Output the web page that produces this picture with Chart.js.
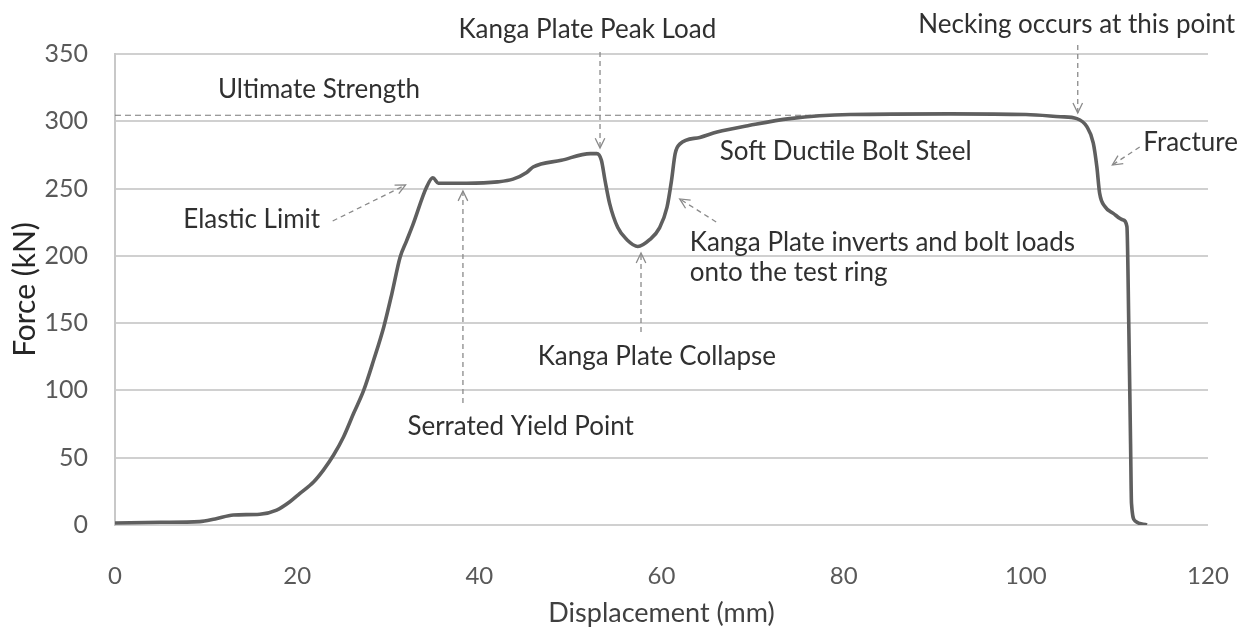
<!DOCTYPE html>
<html>
<head>
<meta charset="utf-8">
<title>Bolt pull test - Force vs Displacement</title>
<script src="https://cdn.jsdelivr.net/npm/chart.js@4.4.0/dist/chart.umd.min.js"></script>
<style>
    html, body { margin: 0; padding: 0; background: #fff; }
    #wrap { width: 1250px; height: 628px; position: relative; }
</style>
</head>
<body>
<div id="wrap"><canvas id="force-chart"></canvas></div>
<script>
// values
const displacement = [0, 5, 9.3, 11, 13, 15.9, 17.75, 19.2, 20.3, 21.8, 22.9, 24, 25.1, 26.2, 27.3,
    28.4, 29.5, 30.4, 31.3, 32.0, 32.7, 34.2, 34.9, 35.5, 38.6, 42, 43.7, 45.2, 45.9, 49, 52.2,
    52.9, 53.4, 53.8, 54.3, 55.2, 56.2, 57.4, 58.7, 59.8, 60.6, 61.1, 61.5, 62, 64.2, 66.1, 69.7,
    74.1, 80.7, 91.7, 100, 103.8, 105.6, 106.7, 107.4, 107.8, 108.1, 108.7, 109.6, 110.7, 111.1,
    111.3, 111.5, 111.6, 112, 113.3]
const force = [1.5, 2, 2.5, 4.5, 7.4, 8, 11.1, 17.3, 23.5, 32, 41, 52, 65.6, 83, 100,
    122.6, 147, 172, 199, 211, 223, 251, 258, 254, 254, 255, 257, 262, 266, 271, 276,
    276, 271, 256, 239, 221, 212, 207, 212, 221, 236, 256, 276, 283, 288, 292, 297,
    302, 305, 305.5, 305, 303.4, 302, 296, 284, 266, 246.6, 236.5, 231.6, 226.6, 221.7,
    150, 60, 16, 3, 0]

const ultimateX = [0, 80]
const ultimateY = [304.5, 304.5]

const xTicks = [0, 20, 40, 60, 80, 100, 120]
const yTicks = [0, 50, 100, 150, 200, 250, 300, 350]

// callout texts, placed in data units
const notes = [
    { text: "Kanga Plate Peak Load", x: 37.7, y: 367.8 },
    { text: "Necking occurs at this point", x: 88.2, y: 371.6 },
    { text: "Ultimate Strength", x: 11.3, y: 323.2 },
    { text: "Soft Ductile Bolt Steel", x: 66.4, y: 277.2 },
    { text: "Fracture", x: 112.9, y: 283.9 },
    { text: "Elastic Limit", x: 7.5, y: 226.6 },
    { text: "Kanga Plate inverts and bolt loads", x: 63.1, y: 209.6 },
    { text: "onto the test ring", x: 63.1, y: 187.3 },
    { text: "Kanga Plate Collapse", x: 46.4, y: 124.8 },
    { text: "Serrated Yield Point", x: 32.1, y: 72.8 }
]

// dashed arrows: [fromX, fromY, toX, toY]
const arrows = [
    [53.25, 351.5, 53.25, 280.1],
    [105.7, 356.7, 105.7, 306.2],
    [23.9, 225.9, 31.9, 252.7],
    [38.2, 90.7, 38.2, 248.2],
    [57.75, 143.4, 57.75, 202.1],
    [66.0, 225.2, 62.0, 242.3],
    [112.5, 280.9, 109.5, 267.5]
]

const FONT = 'Lato, "Open Sans", sans-serif'

function pairs(xs, ys) {
    let out = []
    for (let i = 0; i < xs.length; i++) {
        out.push({ x: xs[i], y: ys[i] })
    }
    return out
}

const notesPlugin = {
    id: "notes",
    afterDatasetsDraw(chart) {
        const ctx = chart.ctx
        const sx = chart.scales.x
        const sy = chart.scales.y
        ctx.save()

        ctx.font = "26px " + FONT
        ctx.fillStyle = "#303030"
        ctx.textAlign = "left"
        ctx.textBaseline = "middle"
        for (const n of notes) {
            ctx.fillText(n.text, sx.getPixelForValue(n.x), sy.getPixelForValue(n.y))
        }

        ctx.strokeStyle = "#8a8a8a"
        ctx.lineWidth = 1.3
        for (const a of arrows) {
            const x1 = sx.getPixelForValue(a[0])
            const y1 = sy.getPixelForValue(a[1])
            const x2 = sx.getPixelForValue(a[2])
            const y2 = sy.getPixelForValue(a[3])
            ctx.setLineDash([5, 4])
            ctx.beginPath()
            ctx.moveTo(x1, y1)
            ctx.lineTo(x2, y2)
            ctx.stroke()

            // open arrow head
            const ang = Math.atan2(y2 - y1, x2 - x1)
            const len = 11
            ctx.setLineDash([])
            ctx.beginPath()
            ctx.moveTo(x2 - len * Math.cos(ang - 0.45), y2 - len * Math.sin(ang - 0.45))
            ctx.lineTo(x2, y2)
            ctx.lineTo(x2 - len * Math.cos(ang + 0.45), y2 - len * Math.sin(ang + 0.45))
            ctx.stroke()
        }
        ctx.restore()
    }
}

window.addEventListener("DOMContentLoaded", () => {
    const ctx = document.querySelector("#force-chart")

    const data = {
        datasets: [{
            label: "Force",
            data: pairs(displacement, force),
            borderColor: "#5f5f5f",
            borderWidth: 3.6,
            pointRadius: 0,
            cubicInterpolationMode: "monotone",
            order: 1
        }, {
            label: "Ultimate Strength",
            data: pairs(ultimateX, ultimateY),
            borderColor: "#7a7a7a",
            borderWidth: 1.2,
            borderDash: [6, 4],
            pointRadius: 0,
            order: 2
        }]
    }

    const config = {
        type: "line",
        data: data,
        options: {
            responsive: true,
            maintainAspectRatio: false,
            animation: false,
            layout: { padding: { top: 54, right: 42, left: 0, bottom: 0 } },
            plugins: {
                legend: { display: false },
                tooltip: { enabled: false }
            },
            scales: {
                x: {
                    type: "linear",
                    min: 0,
                    max: 120,
                    afterFit: (scale) => { scale.height = 103 },
                    afterBuildTicks: (scale) => { scale.ticks = xTicks.map(v => ({ value: v })) },
                    grid: { display: false, drawTicks: false },
                    border: { display: false },
                    ticks: {
                        // small padding + tall line keeps the label low without widening the right gutter
                        padding: 12,
                        color: "#595959",
                        font: { family: FONT, size: 24, lineHeight: 3.25 }
                    },
                    title: {
                        display: true,
                        text: "Displacement (mm)",
                        color: "#404040",
                        padding: { top: 0, bottom: 0 },
                        font: { family: FONT, size: 27, lineHeight: 1.1 }
                    }
                },
                y: {
                    min: 0,
                    max: 350,
                    afterFit: (scale) => { scale.width = 115 },
                    afterBuildTicks: (scale) => { scale.ticks = yTicks.map(v => ({ value: v })) },
                    grid: { color: "#d0d0d0", lineWidth: 2, drawTicks: false },
                    border: { display: true, color: "#c8c8c8", width: 2 },
                    ticks: {
                        padding: 27,
                        color: "#595959",
                        font: { family: FONT, size: 25 }
                    },
                    title: {
                        display: true,
                        text: "Force (kN)",
                        color: "#262626",
                        padding: { top: 7, bottom: 0 },
                        font: { family: FONT, size: 30 }
                    }
                }
            }
        },
        plugins: [notesPlugin]
    }

    new Chart(ctx, config)
})
</script>
</body>
</html>
